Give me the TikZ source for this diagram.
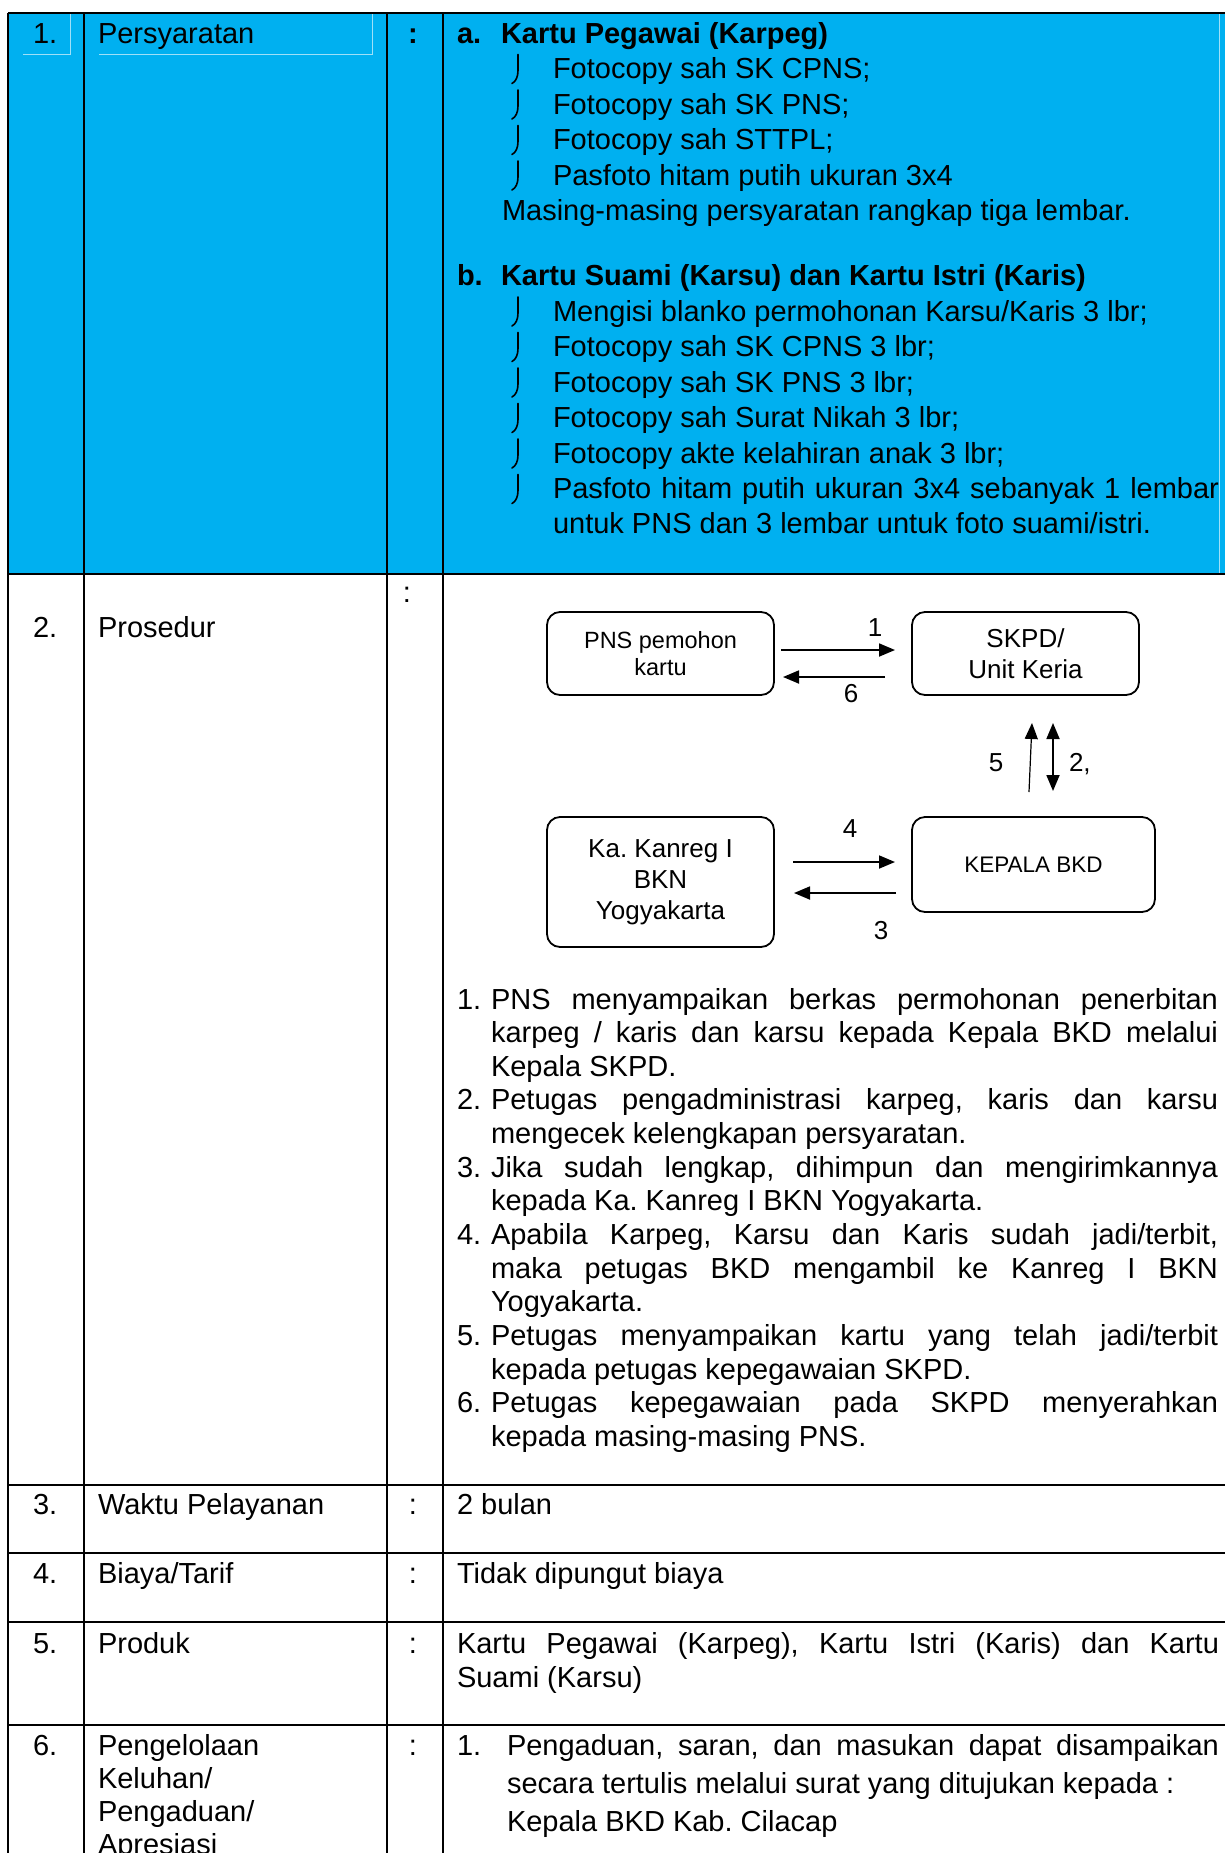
\documentclass[tikz,border=0pt]{standalone}
\usepackage{fontspec}
\setmainfont{Liberation Sans}
\usetikzlibrary{arrows.meta,calc}

\definecolor{cellblue}{HTML}{00B0F0}
\definecolor{paleline}{HTML}{9FE0F8}

% a line of text stretched to a given width (justified line)
\newcommand\justline[2]{\makebox[#1][s]{#2}}
\frenchspacing

\begin{document}
\begin{tikzpicture}[x=1pt,y=-1pt,
  every node/.style={inner sep=0pt, outer sep=0pt},
  txt/.style={anchor=base west, font=\fontsize{29}{34}\selectfont},
  head/.style={anchor=base west, font=\fontsize{29}{34}\selectfont\bfseries},
  colon/.style={anchor=base, font=\fontsize{29}{34}\selectfont},
  rule/.style={line width=1.5pt, black},
  pale/.style={line width=1pt, paleline},
  box/.style={draw, line width=1.8pt, rounded corners=13pt, align=center},
  arr/.style={line width=1.8pt, -{Triangle[length=16pt,width=13pt]}},
  lbl/.style={anchor=base, font=\fontsize{26}{30}\selectfont},
  bul/.style={line width=1.6pt, line cap=round},
  bulhook/.pic={\draw[bul] (0,-24) -- (0,-8) .. controls (0,-2) and (-2,3) .. (-6,5);},
]
\useasboundingbox (0,0) rectangle (1225,1853);
\clip (0,0) rectangle (1225,1853);
\fill[white] (0,0) rectangle (1225,1853);

% ---- shaded first row ----
\fill[cellblue] (8,13) rectangle (1225,574);
\draw[pale] (23,54) -- (70,54) -- (70,14);
\draw[pale] (99,54) -- (372,54) -- (372,14);
\draw[pale] (1219,14) -- (1219,573);

% ---- table rules ----
\draw[rule] (8,13) -- (1225,13);
\foreach \yy in {574,1485,1553,1622,1725} \draw[rule] (8,\yy) -- (1225,\yy);
\foreach \xx in {8,84,387,443} \draw[rule] (\xx,13) -- (\xx,1853);

% ---- row 1: Persyaratan ----
\node[txt] (n1) at (33,43) {1.};
\node[txt] (t1) at (98,43) {Persyaratan};
\node[colon, font=\fontsize{29}{34}\selectfont\bfseries] (c1) at (413,43) {:};

\node[head] (ha) at (457,43) {a.};
\node[head] (hat) at (501,43) {Kartu Pegawai (Karpeg)};
\foreach \yy in {78.5,114,149.5,185} \pic at (518,\yy) {bulhook};
\node[txt] (a1) at (553,78.5) {Fotocopy sah SK CPNS;};
\node[txt] (a2) at (553,114) {Fotocopy sah SK PNS;};
\node[txt] (a3) at (553,149.5) {Fotocopy sah STTPL;};
\node[txt] (a4) at (553,185) {Pasfoto hitam putih ukuran 3x4};
\node[txt] (a5) at (502,220.5) {Masing-masing persyaratan rangkap tiga lembar.};

\node[head] (hb) at (457,285) {b.};
\node[head] (hbt) at (501,285) {Kartu Suami (Karsu) dan Kartu Istri (Karis)};
\foreach \yy in {321,356.5,392,427.5,463,498.5} \pic at (518,\yy) {bulhook};
\node[txt] (b1) at (553,321) {Mengisi blanko permohonan Karsu/Karis 3 lbr;};
\node[txt] (b2) at (553,356.5) {Fotocopy sah SK CPNS 3 lbr;};
\node[txt] (b3) at (553,392) {Fotocopy sah SK PNS 3 lbr;};
\node[txt] (b4) at (553,427.5) {Fotocopy sah Surat Nikah 3 lbr;};
\node[txt] (b5) at (553,463) {Fotocopy akte kelahiran anak 3 lbr;};
\node[txt] (b6) at (553,498.5) {\justline{666pt}{Pasfoto hitam putih ukuran 3x4 sebanyak 1 lembar}};
\node[txt] (b7) at (553,533) {untuk PNS dan 3 lembar untuk foto suami/istri.};

% ---- row 2: Prosedur ----
\node[txt] (n2) at (33,637) {2.};
\node[txt] (t2) at (98,637) {Prosedur};
\node[colon] (c2) at (407,602) {:};

% flow chart
\node[box, minimum width=227pt, minimum height=83pt, font=\fontsize{23.5}{27}\selectfont] (pns) at (660.5,653.5) {PNS pemohon\\kartu};
\node[box, minimum width=227pt, minimum height=83pt, font=\fontsize{26}{31}\selectfont] (skpd) at (1025.5,653.5) {SKPD/\\Unit Keria};
\node[box, minimum width=227pt, minimum height=130pt, font=\fontsize{26}{31}\selectfont] (kanreg) at (660.5,882) {Ka. Kanreg I\\BKN\\Yogyakarta};
\node[box, minimum width=243pt, minimum height=95pt, font=\fontsize{22.5}{27}\selectfont] (kepala) at (1033.5,864.5) {KEPALA BKD};

\draw[arr, shorten <=7pt, shorten >=17pt] (pns.east |- 0,650) -- (skpd.west |- 0,650);
\draw[arr, shorten <=27pt, shorten >=9pt] (skpd.west |- 0,677) -- (pns.east |- 0,677);
\draw[arr, shorten <=19pt, shorten >=17pt] (kanreg.east |- 0,862) -- (kepala.west |- 0,862);
\draw[arr, shorten <=16pt, shorten >=20pt] (kepala.west |- 0,893) -- (kanreg.east |- 0,893);
\draw[arr, line width=1.2pt] ($(kepala.north)+(-4.5,-25)$) -- ($(skpd.south)+(6.5,28)$);
\draw[line width=1.8pt, {Triangle[length=16pt,width=13pt]}-{Triangle[length=16pt,width=13pt]}]
  ($(kepala.north)+(19.5,-26)$) -- ($(skpd.south)+(27.5,28)$);

\node[lbl] (lab1) at (875,636.5) {1};
\node[lbl] (lab6) at (851,702.5) {6};
\node[lbl] (lab5) at (996,771.5) {5};
\node[lbl, anchor=base west] (lab2) at (1069,771.5) {2,};
\node[lbl] (lab4) at (850,837.5) {4};
\node[lbl] (lab3) at (881,939.5) {3};

% procedure steps
\node[txt] (s1n) at (457,1009) {1.};
\node[txt] (s1a) at (491,1009) {\justline{727pt}{PNS menyampaikan berkas permohonan penerbitan}};
\node[txt] (s1b) at (491,1042.65) {\justline{727pt}{karpeg / karis dan karsu kepada Kepala BKD melalui}};
\node[txt] (s1c) at (491,1076.3) {Kepala SKPD.};
\node[txt] (s2n) at (457,1109.95) {2.};
\node[txt] (s2a) at (491,1109.95) {\justline{727pt}{Petugas pengadministrasi karpeg, karis dan karsu}};
\node[txt] (s2b) at (491,1143.6) {mengecek kelengkapan persyaratan.};
\node[txt] (s3n) at (457,1177.25) {3.};
\node[txt] (s3a) at (491,1177.25) {\justline{727pt}{Jika sudah lengkap, dihimpun dan mengirimkannya}};
\node[txt] (s3b) at (491,1210.9) {kepada Ka. Kanreg I BKN Yogyakarta.};
\node[txt] (s4n) at (457,1244.55) {4.};
\node[txt] (s4a) at (491,1244.55) {\justline{727pt}{Apabila Karpeg, Karsu dan Karis sudah jadi/terbit,}};
\node[txt] (s4b) at (491,1278.2) {\justline{727pt}{maka petugas BKD mengambil ke Kanreg I BKN}};
\node[txt] (s4c) at (491,1311.85) {Yogyakarta.};
\node[txt] (s5n) at (457,1345.5) {5.};
\node[txt] (s5a) at (491,1345.5) {\justline{727pt}{Petugas menyampaikan kartu yang telah jadi/terbit}};
\node[txt] (s5b) at (491,1379.15) {kepada petugas kepegawaian SKPD.};
\node[txt] (s6n) at (457,1412.8) {6.};
\node[txt] (s6a) at (491,1412.8) {\justline{727pt}{Petugas kepegawaian pada SKPD menyerahkan}};
\node[txt] (s6b) at (491,1446.45) {kepada masing-masing PNS.};

% ---- row 3 ----
\node[txt] (n3) at (33,1514.5) {3.};
\node[txt] (t3) at (98,1514.5) {Waktu Pelayanan};
\node[colon] (c3) at (413,1514.5) {:};
\node[txt] (v3) at (457,1514.5) {2 bulan};

% ---- row 4 ----
\node[txt] (n4) at (33,1583) {4.};
\node[txt] (t4) at (98,1583) {Biaya/Tarif};
\node[colon] (c4) at (413,1583) {:};
\node[txt] (v4) at (457,1583) {Tidak dipungut biaya};

% ---- row 5 ----
\node[txt] (n5) at (33,1653) {5.};
\node[txt] (t5) at (98,1653) {Produk};
\node[colon] (c5) at (413,1653) {:};
\node[txt] (v5a) at (457,1653) {\justline{762pt}{Kartu Pegawai (Karpeg), Kartu Istri (Karis) dan Kartu}};
\node[txt] (v5b) at (457,1687) {Suami (Karsu)};

% ---- row 6 ----
\node[txt] (n6) at (33,1755) {6.};
\node[txt] (t6a) at (98,1755) {Pengelolaan};
\node[txt] (t6b) at (98,1788) {Keluhan/};
\node[txt] (t6c) at (98,1821) {Pengaduan/};
\node[txt] (t6d) at (98,1854) {Apresiasi};
\node[colon] (c6) at (413,1755) {:};
\node[txt] (v6n) at (457,1755) {1.};
\node[txt] (v6a) at (507,1755) {\justline{712pt}{Pengaduan, saran, dan masukan dapat disampaikan}};
\node[txt] (v6b) at (507,1793) {secara tertulis melalui surat yang ditujukan kepada :};
\node[txt] (v6c) at (507,1831) {Kepala BKD Kab. Cilacap};
\end{tikzpicture}
\end{document}
